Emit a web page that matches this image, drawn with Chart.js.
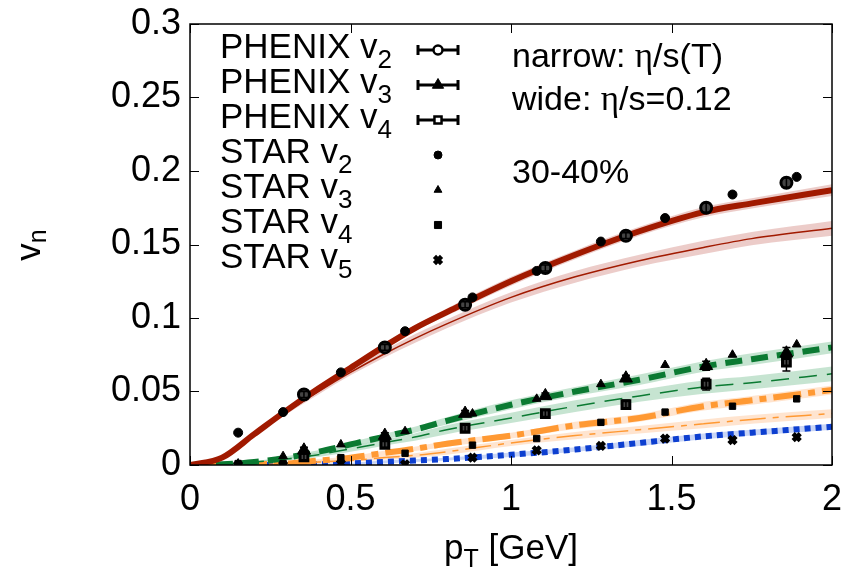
<!DOCTYPE html>
<html>
<head>
<meta charset="utf-8">
<script src="https://cdn.jsdelivr.net/npm/chart.js@4.4.1/dist/chart.umd.min.js"></script>
<style>
  html, body { margin: 0; padding: 0; background: #fff; }
  #wrap { width: 848px; height: 573px; }
</style>
</head>
<body>
<div id="wrap"><canvas id="c" width="848" height="573"></canvas></div>
<script>
// ---------- data ----------
const xTicks = [0, 0.5, 1, 1.5, 2];
const yTicks = [0, 0.05, 0.1, 0.15, 0.2, 0.25, 0.3];

// hydro model curves (pT grid)
const modelPt   = [0, 0.1, 0.2, 0.3, 0.4, 0.5, 0.6, 0.7, 0.8, 1.0, 1.2, 1.4, 1.6, 1.75, 2.0];
const v2Narrow  = [0, 0.005, 0.021, 0.037, 0.052, 0.066, 0.080, 0.093, 0.104, 0.125, 0.143, 0.159, 0.172, 0.178, 0.187];
const v2NarrowErr = [0, 0.001, 0.001, 0.0015, 0.0015, 0.002, 0.002, 0.002, 0.0025, 0.003, 0.003, 0.003, 0.0035, 0.0035, 0.004];
const v2Wide    = [0, 0.005, 0.021, 0.036, 0.050, 0.063, 0.075, 0.086, 0.096, 0.114, 0.128, 0.139, 0.148, 0.154, 0.161];
const v2WideErr = [0, 0.001, 0.001, 0.0015, 0.002, 0.002, 0.0025, 0.003, 0.003, 0.0035, 0.004, 0.004, 0.0045, 0.0045, 0.005];
const v3Narrow  = [0, 0.0005, 0.002, 0.005, 0.009, 0.014, 0.019, 0.024, 0.030, 0.041, 0.050, 0.058, 0.067, 0.072, 0.080];
const v3NarrowErr = [0, 0, 0.0005, 0.001, 0.001, 0.0015, 0.002, 0.002, 0.0025, 0.003, 0.003, 0.0035, 0.0035, 0.004, 0.004];
const v3Wide    = [0, 0.0005, 0.002, 0.004, 0.007, 0.011, 0.015, 0.019, 0.024, 0.032, 0.040, 0.047, 0.053, 0.056, 0.062];
const v3WideErr = [0, 0, 0.0005, 0.001, 0.0015, 0.002, 0.002, 0.0025, 0.003, 0.0035, 0.004, 0.004, 0.0045, 0.0045, 0.005];
const v4Narrow  = [0, 0, 0.0005, 0.001, 0.003, 0.005, 0.008, 0.011, 0.0145, 0.020, 0.027, 0.032, 0.040, 0.044, 0.051];
const v4NarrowErr = [0, 0, 0, 0.0005, 0.001, 0.001, 0.0015, 0.0015, 0.002, 0.002, 0.0025, 0.0025, 0.003, 0.003, 0.003];
const v4Wide    = [0, 0, 0.0003, 0.001, 0.002, 0.003, 0.005, 0.0065, 0.009, 0.015, 0.020, 0.024, 0.028, 0.031, 0.035];
const v4WideErr = [0, 0, 0, 0.0005, 0.001, 0.001, 0.0015, 0.0015, 0.002, 0.002, 0.0025, 0.0025, 0.003, 0.003, 0.003];
const v5Narrow  = [0, 0, 0, 0, 0.0005, 0.001, 0.002, 0.003, 0.004, 0.007, 0.0105, 0.015, 0.0195, 0.022, 0.026];
const v5NarrowErr = [0, 0, 0, 0, 0.0005, 0.0005, 0.001, 0.001, 0.001, 0.0015, 0.0015, 0.002, 0.002, 0.002, 0.002];

// PHENIX data
const phenixPt  = [0.355, 0.607, 0.857, 1.107, 1.358, 1.608, 1.858];
const phenixV2  = [0.048, 0.080, 0.109, 0.134, 0.156, 0.175, 0.192];
const phenixV2Err = [0.002, 0.002, 0.002, 0.002, 0.002, 0.003, 0.003];
const phenixV3  = [0.010, 0.020, 0.035, 0.047, 0.059, 0.0675, 0.076];
const phenixV3Err = [0.002, 0.002, 0.002, 0.002, 0.002, 0.003, 0.004];
const phenixV4  = [0.0055, 0.014, 0.025, 0.035, 0.041, 0.055, 0.070];
const phenixV4Err = [0.002, 0.002, 0.002, 0.002, 0.003, 0.004, 0.006];

// STAR data
const starPt = [0.15, 0.29, 0.47, 0.67, 0.88, 1.08, 1.28, 1.48, 1.69, 1.89];
const starV2 = [0.022, 0.036, 0.063, 0.091, 0.114, 0.132, 0.152, 0.168, 0.184, 0.196];
const starV3 = [0.001, 0.006, 0.014, 0.023, 0.035, 0.045, 0.055, 0.068, 0.075, 0.082];
const starV4 = [0.001, 0.001, 0.005, 0.008, 0.0135, 0.018, 0.029, 0.036, 0.040, 0.045];
const starV5 = [0.0, 0.0, 0.001, 0.0005, 0.005, 0.010, 0.013, 0.018, 0.017, 0.019];

// ---------- helpers ----------
const FONT = "'Liberation Sans', Arial, Helvetica, sans-serif";
const SERIF = "'Liberation Serif', 'DejaVu Serif', serif";
const pts = (xs, ys) => xs.map((x, i) => ({x: x, y: ys[i]}));
const ptsOff = (xs, ys, es, s) => xs.map((x, i) => ({x: x, y: ys[i] + s * es[i]}));

const RED = '#a11a00', GREEN = '#0b7a32', ORANGE = '#ff9933', BLUE = '#0d3fd0';
const bandRed = 'rgba(200,110,100,0.35)';
const bandGreen = 'rgba(120,190,145,0.42)';
const bandOrange = 'rgba(255,190,140,0.42)';
const bandBlue = 'rgba(120,150,230,0.4)';

function band(vals, errs, color) {
  return [
    {data: ptsOff(modelPt, vals, errs, -1), showLine: true, borderWidth: 0, pointRadius: 0, fill: false, order: 20, cubicInterpolationMode: 'monotone'},
    {data: ptsOff(modelPt, vals, errs, 1), showLine: true, borderWidth: 0, pointRadius: 0, fill: '-1', backgroundColor: color, order: 20, cubicInterpolationMode: 'monotone'}
  ];
}
function line(vals, color, width, dash) {
  return {data: pts(modelPt, vals), showLine: true, borderColor: color, borderWidth: width, borderDash: dash || [],
    pointRadius: 0, fill: false, order: 10, cubicInterpolationMode: 'monotone', borderCapStyle: 'butt'};
}
function marks(xs, ys, style, r, bw, bg, errs) {
  return {data: pts(xs, ys), showLine: false, pointStyle: style, pointRadius: r, borderWidth: bw,
    borderColor: '#000', backgroundColor: bg, order: 0, errs: errs || null};
}

const datasets = [].concat(
  band(v2Narrow, v2NarrowErr, bandRed),
  band(v2Wide, v2WideErr, bandRed),
  band(v3Narrow, v3NarrowErr, bandGreen),
  band(v3Wide, v3WideErr, bandGreen),
  band(v4Narrow, v4NarrowErr, bandOrange),
  band(v4Wide, v4WideErr, bandOrange),
  band(v5Narrow, v5NarrowErr, bandBlue),
  [
    line(v2Wide, RED, 1.5),
    line(v2Narrow, RED, 6),
    line(v3Wide, GREEN, 1.5, [18, 10]),
    line(v3Narrow, GREEN, 6, [17, 9]),
    line(v4Wide, ORANGE, 1.5, [26, 7, 6, 7]),
    line(v4Narrow, ORANGE, 6, [28, 7, 7, 7]),
    line(v5Narrow, BLUE, 6, [6, 5]),
    marks(phenixPt, phenixV2, 'circle', 5.5, 3, '#444', phenixV2Err),
    marks(phenixPt, phenixV3, 'triangle', 7.5, 1, '#000', phenixV3Err),
    marks(phenixPt, phenixV4, 'rect', 5.5, 3, '#444', phenixV4Err),
    marks(starPt, starV2, 'circle', 4.5, 1, '#000'),
    marks(starPt, starV3, 'triangle', 5, 1, '#000'),
    marks(starPt, starV4, 'rect', 4.5, 1, '#000'),
    marks(starPt, starV5, 'crossRot', 5, 4.5, '#000')
  ]
);

// ---------- plugins ----------
function richText(ctx, parts, x, y, align) {
  let total = 0;
  parts.forEach(p => { ctx.font = p.font; total += ctx.measureText(p.t).width; });
  let cx = align === 'center' ? x - total / 2 : x;
  parts.forEach(p => {
    ctx.font = p.font;
    ctx.fillText(p.t, cx, y + (p.dy || 0));
    cx += ctx.measureText(p.t).width;
  });
}

const framePlugin = {
  id: 'frame',
  afterDatasetsDraw(chart) {
    const ctx = chart.ctx, a = chart.chartArea, xs = chart.scales.x, ys = chart.scales.y;
    ctx.save();
    // error bars
    chart.data.datasets.forEach((ds, di) => {
      if (!ds.errs) return;
      ctx.strokeStyle = '#000'; ctx.lineWidth = 1.5;
      ds.data.forEach((p, i) => {
        const px = xs.getPixelForValue(p.x);
        const y1 = ys.getPixelForValue(p.y - ds.errs[i]);
        const y2 = ys.getPixelForValue(p.y + ds.errs[i]);
        ctx.beginPath();
        ctx.moveTo(px, y1); ctx.lineTo(px, y2);
        ctx.moveTo(px - 4, y1); ctx.lineTo(px + 4, y1);
        ctx.moveTo(px - 4, y2); ctx.lineTo(px + 4, y2);
        ctx.stroke();
      });
    });
    // frame
    ctx.strokeStyle = '#000'; ctx.lineWidth = 1.5;
    ctx.strokeRect(a.left, a.top, a.right - a.left, a.bottom - a.top);
    ctx.lineWidth = 1;
    const tl = 9;
    ctx.beginPath();
    xTicks.forEach(v => {
      const px = Math.round(xs.getPixelForValue(v)) + 0.5;
      ctx.moveTo(px, a.bottom); ctx.lineTo(px, a.bottom - tl);
      ctx.moveTo(px, a.top); ctx.lineTo(px, a.top + tl);
    });
    yTicks.forEach(v => {
      const py = Math.round(ys.getPixelForValue(v)) + 0.5;
      ctx.moveTo(a.left, py); ctx.lineTo(a.left + tl, py);
      ctx.moveTo(a.right, py); ctx.lineTo(a.right - tl, py);
    });
    ctx.stroke();

    ctx.fillStyle = '#000';
    ctx.textBaseline = 'alphabetic';
    ctx.textAlign = 'left';
    // axis titles
    richText(ctx, [
      {t: 'p', font: '35px ' + FONT},
      {t: 'T', font: '25px ' + FONT, dy: 8},
      {t: ' [GeV]', font: '35px ' + FONT}
    ], xs.getPixelForValue(1.0), 559, 'center');
    ctx.save();
    ctx.translate(40, 245);
    ctx.rotate(-Math.PI / 2);
    richText(ctx, [
      {t: 'v', font: '35px ' + FONT},
      {t: 'n', font: '25px ' + FONT, dy: 6}
    ], 0, 0, 'center');
    ctx.restore();

    // annotations
    richText(ctx, [
      {t: 'narrow: ', font: '34px ' + FONT},
      {t: 'η', font: '35px ' + SERIF},
      {t: '/s(T)', font: '34px ' + FONT}
    ], 512, 67, 'left');
    richText(ctx, [
      {t: 'wide: ', font: '34px ' + FONT},
      {t: 'η', font: '35px ' + SERIF},
      {t: '/s=0.12', font: '34px ' + FONT}
    ], 512, 110, 'left');
    richText(ctx, [{t: '30-40%', font: '34px ' + FONT}], 512, 183, 'left');

    // legend
    const rows = [
      {main: 'PHENIX v', sub: '2', style: 'circle', r: 4.5, bw: 2.5, bg: '#fff', bar: true},
      {main: 'PHENIX v', sub: '3', style: 'triangle', r: 6.5, bw: 1, bg: '#000', bar: true},
      {main: 'PHENIX v', sub: '4', style: 'rect', r: 5, bw: 2.5, bg: '#fff', bar: true},
      {main: 'STAR v', sub: '2', style: 'circle', r: 4, bw: 1, bg: '#000'},
      {main: 'STAR v', sub: '3', style: 'triangle', r: 4.5, bw: 1, bg: '#000'},
      {main: 'STAR v', sub: '4', style: 'rect', r: 5, bw: 1, bg: '#000'},
      {main: 'STAR v', sub: '5', style: 'crossRot', r: 5, bw: 4.5, bg: '#000'}
    ];
    const symX = 438;
    rows.forEach((row, i) => {
      const base = 58 + i * 35;
      ctx.fillStyle = '#000';
      richText(ctx, [
        {t: row.main, font: '35px ' + FONT},
        {t: row.sub, font: '26px ' + FONT, dy: 10}
      ], 220, base, 'left');
      const sy = base - 8;
      if (row.bar) {
        ctx.strokeStyle = '#000'; ctx.lineWidth = 3;
        ctx.beginPath();
        ctx.moveTo(418, sy); ctx.lineTo(458, sy);
        ctx.moveTo(418, sy - 5); ctx.lineTo(418, sy + 5);
        ctx.moveTo(458, sy - 5); ctx.lineTo(458, sy + 5);
        ctx.stroke();
      }
      ctx.fillStyle = row.bg; ctx.strokeStyle = '#000'; ctx.lineWidth = row.bw;
      Chart.helpers.drawPoint(ctx, {pointStyle: row.style, radius: row.r, borderWidth: row.bw, rotation: 0}, symX, sy);
    });
    ctx.restore();
  }
};

new Chart(document.getElementById('c'), {
  type: 'scatter',
  data: {datasets: datasets},
  options: {
    responsive: false,
    animation: false,
    layout: {padding: {left: 0, right: 16, top: 24, bottom: 0}},
    plugins: {legend: {display: false}, tooltip: {enabled: false}},
    scales: {
      x: {
        type: 'linear', min: 0, max: 2,
        afterBuildTicks: s => { s.ticks = xTicks.map(v => ({value: v})); },
        ticks: {color: '#000', font: {family: FONT, size: 36}, padding: 13, maxRotation: 0,
          callback: v => String(v)},
        grid: {display: false, drawTicks: false},
        border: {display: false},
        afterFit: s => { s.height = 108; s.paddingLeft = 0; s.paddingRight = 0; }
      },
      y: {
        type: 'linear', min: 0, max: 0.3,
        afterBuildTicks: s => { s.ticks = yTicks.map(v => ({value: v})); },
        ticks: {color: '#000', font: {family: FONT, size: 36}, padding: 9,
          callback: v => String(Math.round(v * 100) / 100)},
        grid: {display: false, drawTicks: false},
        border: {display: false},
        afterFit: s => { s.width = 190; s.paddingTop = 0; s.paddingBottom = 0; }
      }
    }
  },
  plugins: [framePlugin]
});
</script>
</body>
</html>
